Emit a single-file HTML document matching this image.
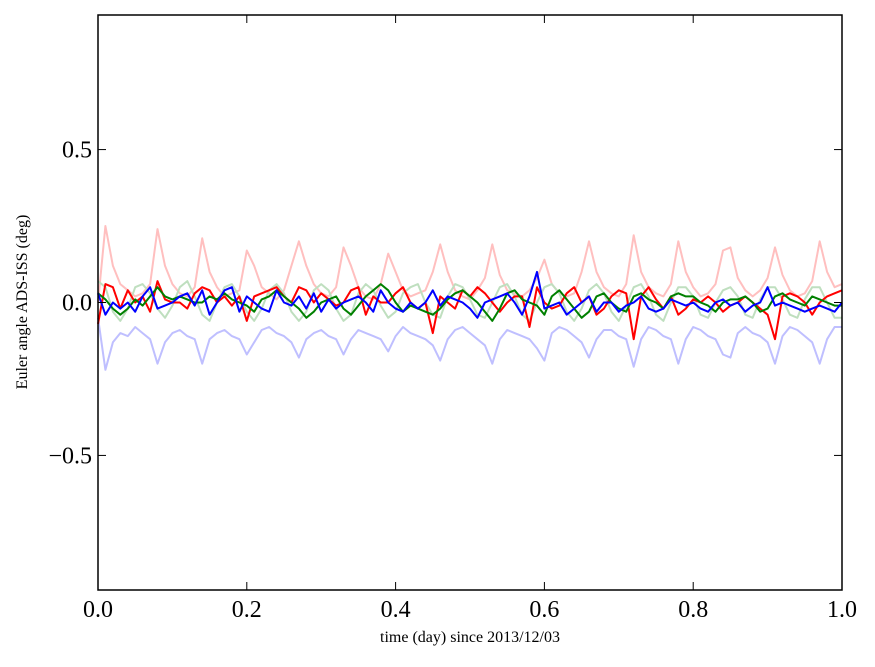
<!DOCTYPE html>
<html><head><meta charset="utf-8"><style>
body{margin:0;background:#fff}
svg text{font-family:"Liberation Serif",serif}
</style></head><body>
<svg id="c" width="875" height="662"></svg>
<script>
const xs=[];for(let i=0;i<=100;i++)xs.push(i/100);
const fadedRed=[0.00,0.25,0.12,0.06,0.04,0.02,0.03,0.06,0.24,0.12,0.06,0.03,0.02,0.05,0.21,0.10,0.05,0.02,0.03,0.04,0.17,0.12,0.05,0.03,0.01,0.04,0.12,0.20,0.12,0.06,0.03,0.02,0.05,0.18,0.12,0.05,0.02,0.01,0.06,0.16,0.10,0.04,0.02,0.03,0.04,0.10,0.19,0.10,0.04,0.02,0.01,0.04,0.08,0.19,0.09,0.04,0.03,0.02,0.04,0.08,0.14,0.06,0.03,0.02,0.03,0.10,0.20,0.10,0.05,0.03,0.02,0.06,0.22,0.10,0.05,0.03,0.02,0.06,0.20,0.10,0.05,0.02,0.03,0.06,0.17,0.18,0.08,0.04,0.02,0.04,0.08,0.18,0.09,0.04,0.02,0.03,0.07,0.20,0.10,0.05,0.06];
const fadedBlue=[-0.05,-0.22,-0.13,-0.10,-0.11,-0.08,-0.10,-0.12,-0.20,-0.13,-0.10,-0.09,-0.11,-0.12,-0.20,-0.12,-0.10,-0.09,-0.11,-0.12,-0.17,-0.13,-0.09,-0.08,-0.10,-0.11,-0.13,-0.18,-0.12,-0.10,-0.09,-0.11,-0.12,-0.17,-0.12,-0.09,-0.10,-0.11,-0.12,-0.16,-0.11,-0.08,-0.10,-0.11,-0.12,-0.14,-0.19,-0.12,-0.09,-0.08,-0.10,-0.12,-0.14,-0.20,-0.12,-0.09,-0.10,-0.11,-0.12,-0.15,-0.19,-0.10,-0.08,-0.09,-0.11,-0.13,-0.18,-0.12,-0.09,-0.09,-0.11,-0.12,-0.21,-0.12,-0.08,-0.09,-0.11,-0.12,-0.20,-0.12,-0.08,-0.09,-0.11,-0.12,-0.17,-0.18,-0.10,-0.08,-0.10,-0.11,-0.13,-0.20,-0.11,-0.08,-0.09,-0.11,-0.13,-0.20,-0.12,-0.08,-0.08];
const fadedGreen=[0.07,0.05,-0.03,-0.06,-0.02,0.05,0.06,0.03,-0.02,-0.05,-0.01,0.05,0.07,0.02,-0.04,-0.06,0.00,0.05,0.06,0.02,-0.03,-0.06,-0.02,0.04,0.06,0.03,-0.03,-0.06,-0.03,0.04,0.06,0.04,-0.02,-0.06,-0.04,0.03,0.06,0.04,-0.01,-0.05,-0.03,0.03,0.05,0.06,0.00,-0.04,-0.05,0.02,0.06,0.05,0.01,-0.04,-0.05,0.00,0.05,0.06,0.02,-0.04,-0.06,0.00,0.05,0.06,0.03,-0.03,-0.06,-0.02,0.04,0.06,0.03,-0.03,-0.06,-0.01,0.05,0.06,0.02,-0.04,-0.06,0.00,0.05,0.05,0.02,-0.04,-0.05,0.00,0.04,0.05,0.02,-0.04,-0.05,0.01,0.05,0.05,0.01,-0.04,-0.05,0.01,0.05,0.05,0.00,-0.05,-0.05];
const solidRed=[-0.07,0.06,0.05,-0.02,0.04,0.00,0.02,-0.03,0.07,0.01,0.00,0.00,-0.02,0.03,0.05,0.04,0.00,0.02,-0.01,0.02,-0.06,0.02,0.03,0.04,0.05,0.02,0.00,0.05,0.04,0.00,0.03,0.01,-0.01,0.00,0.04,0.05,-0.04,0.02,0.00,0.00,0.03,0.05,0.00,-0.02,0.00,-0.10,0.02,0.00,-0.02,0.04,0.02,0.05,0.03,0.00,-0.03,0.00,0.02,0.02,-0.08,0.05,0.00,-0.02,-0.01,0.03,0.05,0.00,0.02,-0.04,-0.02,0.02,0.04,0.03,-0.12,0.02,0.05,0.01,-0.02,0.02,-0.04,-0.02,0.01,0.00,0.02,0.00,-0.03,-0.01,0.00,0.02,0.00,-0.02,-0.04,-0.12,0.02,0.03,0.02,0.00,-0.04,0.00,0.02,0.03,0.04];
const solidGreen=[0.03,0.01,-0.02,-0.04,-0.02,0.01,-0.01,0.02,0.05,0.02,0.01,0.02,0.01,0.00,0.00,0.02,0.01,0.03,0.01,0.00,-0.01,-0.03,0.01,0.02,0.04,0.02,0.00,-0.02,-0.05,-0.03,0.00,0.01,0.02,-0.02,-0.04,-0.01,0.02,0.04,0.06,0.04,0.00,-0.03,-0.01,-0.02,-0.03,-0.04,-0.02,0.01,0.03,0.04,0.02,0.00,-0.03,-0.06,-0.02,0.03,0.04,0.01,0.00,-0.01,-0.04,0.02,0.04,0.01,-0.02,-0.05,-0.03,0.02,0.03,0.00,-0.02,-0.03,0.02,0.03,0.01,0.00,-0.02,0.02,0.03,0.02,0.02,0.00,-0.01,-0.03,0.00,0.01,0.01,0.02,0.00,-0.03,-0.02,0.02,0.03,0.01,0.00,-0.01,0.02,0.01,0.00,-0.01,-0.01];
const solidBlue=[0.03,-0.04,0.00,-0.02,0.00,-0.03,0.02,0.05,-0.02,-0.01,0.00,0.02,0.03,-0.01,0.04,-0.04,0.00,0.04,0.05,-0.03,0.02,0.00,-0.02,-0.03,0.04,0.00,-0.01,0.02,-0.02,0.03,-0.03,0.01,-0.02,0.00,0.01,0.02,0.00,-0.03,0.04,0.00,-0.02,-0.03,0.00,-0.02,0.00,0.04,-0.01,0.02,0.01,0.00,-0.02,-0.05,0.00,0.01,0.02,0.03,0.00,-0.04,0.02,0.10,-0.02,-0.01,0.00,-0.04,-0.02,0.00,0.02,-0.03,0.00,0.00,-0.03,-0.01,0.00,0.02,-0.02,-0.03,-0.02,0.01,0.00,-0.01,0.00,-0.02,-0.03,0.00,0.01,-0.01,0.00,-0.03,-0.01,0.00,0.05,-0.01,0.00,-0.01,-0.02,-0.03,-0.02,-0.01,-0.02,-0.03,0.00];
const xTicks=[0,0.2,0.4,0.6,0.8,1.0],xTickLabels=["0.0","0.2","0.4","0.6","0.8","1.0"];
const yTicks=[0.5,0,-0.5],yTickLabels=["0.5","0.0","\u22120.5"];
const L=98,R=842,T=15,B=590,ymin=-0.94,ymax=0.94;
const X=v=>L+(R-L)*v, Y=v=>B-(B-T)*(v-ymin)/(ymax-ymin);
const svg=document.getElementById('c'),NS="http://www.w3.org/2000/svg";
function mk(t,a,p){const e=document.createElementNS(NS,t);for(const k in a)e.setAttribute(k,a[k]);(p||svg).appendChild(e);return e;}
const series=[[fadedRed,"#ffbfbf","faded-red-series"],[fadedGreen,"#bfdfbf","faded-green-series"],[fadedBlue,"#bfbfff","faded-blue-series"],[solidRed,"#ff0000","red-series"],[solidGreen,"#008000","green-series"],[solidBlue,"#0000ff","blue-series"]];
series.forEach(s=>{
 const e=mk('polyline',{points:s[0].map((v,i)=>X(xs[i]).toFixed(1)+','+Y(v).toFixed(1)).join(' '),fill:'none',stroke:s[1],'stroke-width':2,'stroke-linejoin':'round'});
 
 
});
const f=mk('rect',{x:L,y:T,width:R-L,height:B-T,fill:'none',stroke:'#000','stroke-width':1.5});


xTicks.forEach((v,i)=>{
 mk('line',{x1:X(v),x2:X(v),y1:B,y2:B-8,stroke:'#000'});mk('line',{x1:X(v),x2:X(v),y1:T,y2:T+8,stroke:'#000'});
 const t=mk('text',{x:X(v),y:B+27,'text-anchor':'middle','font-size':24});t.textContent=xTickLabels[i];
 
 
});
yTicks.forEach((v,i)=>{
 mk('line',{x1:L,x2:L+8,y1:Y(v),y2:Y(v),stroke:'#000'});mk('line',{x1:R,x2:R-8,y1:Y(v),y2:Y(v),stroke:'#000'});
 const t=mk('text',{x:L-6,y:Y(v)+8,'text-anchor':'end','font-size':24});t.textContent=yTickLabels[i];
 
 
});
const xt=mk('text',{x:470,y:642,'text-anchor':'middle','font-size':16});xt.textContent="time (day) since 2013/12/03";


const yt=mk('text',{x:27,y:302,'text-anchor':'middle','font-size':16,transform:'rotate(-90 27 302)'});yt.textContent="Euler angle ADS-ISS (deg)";


</script>
</body></html>
